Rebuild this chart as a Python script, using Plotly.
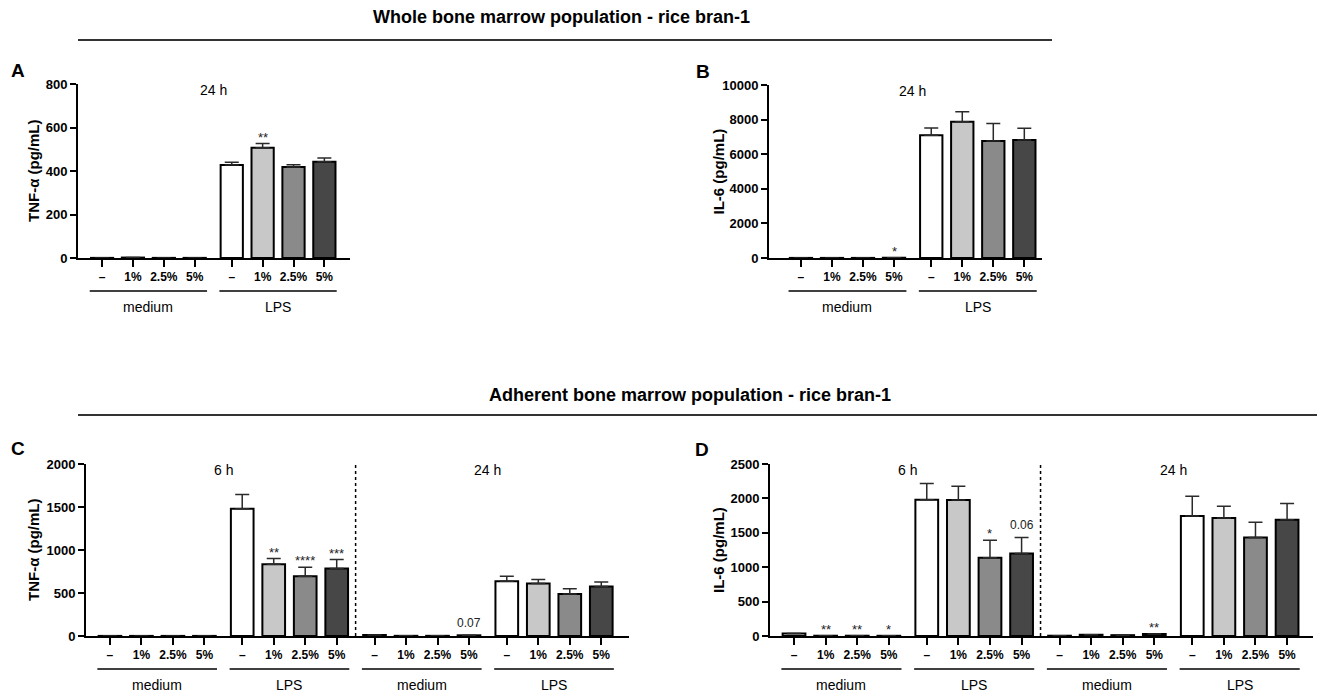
import plotly.graph_objects as go

W, H = 1317, 694
FONT = "Liberation Sans, Arial, sans-serif"

# ---------------- data ----------------
categories = ["–", "1%", "2.5%", "5%"]
groups_2 = ["medium", "LPS"]
groups_4 = ["medium", "LPS", "medium", "LPS"]
bar_colors = ["#ffffff", "#c8c8c8", "#8a8a8a", "#474747"]

A_mean = [0.5, 2, 0.5, 0.5, 428, 507, 418, 443]
A_err = [0, 0, 0, 0, 12, 19, 11, 17]
A_sig = {5: "**"}

B_mean = [5, 5, 5, 15, 7090, 7880, 6760, 6820]
B_err = [0, 0, 0, 0, 420, 580, 1020, 680]
B_sig = {3: "*"}

C_mean = [1, 1, 1, 1, 1480, 835, 695, 784, 12, 2, 2, 8, 637, 610, 489, 575]
C_err = [0, 0, 0, 0, 165, 66, 105, 105, 0, 0, 0, 0, 58, 46, 59, 54]
C_sig = {5: "**", 6: "****", 7: "***", 11: "0.07"}

D_mean = [35, 4, 4, 3, 1980, 1975, 1138, 1200, 4, 18, 12, 30, 1745, 1715, 1430, 1690]
D_err = [0, 0, 0, 0, 235, 200, 252, 233, 0, 0, 0, 0, 285, 170, 222, 237]
D_sig = {1: "**", 2: "**", 3: "*", 6: "*", 7: "0.06", 11: "**"}

time_AB = ["24 h"]
time_CD = ["6 h", "24 h"]


def px(x):
    return x / W


def py(y):
    return 1 - y / H


def positions(ngroups):
    return [g * 4.2 + i for g in range(ngroups) for i in range(4)]


fig = go.Figure()
annotations = []
shapes = []

panels = [
    dict(k="", letter="A", mean=A_mean, err=A_err, sig=A_sig, groups=groups_2, times=time_AB,
         ylab="TNF-α (pg/mL)", ymax=800, dtick=200, x0=78, x1=350, ytop=84, ybot=258,
         xr=[-0.78, 8.03], lpos=(18, 70), ylabx=33),
    dict(k="2", letter="B", mean=B_mean, err=B_err, sig=B_sig, groups=groups_2, times=time_AB,
         ylab="IL-6 (pg/mL)", ymax=10000, dtick=2000, x0=769, x1=1042, ytop=85, ybot=258,
         xr=[-1.03, 7.77], lpos=(703, 71), ylabx=718),
    dict(k="3", letter="C", mean=C_mean, err=C_err, sig=C_sig, groups=groups_4, times=time_CD,
         ylab="TNF-α (pg/mL)", ymax=2000, dtick=500, x0=86, x1=629, ytop=464, ybot=636,
         xr=[-0.76, 16.48], lpos=(18, 448), ylabx=33),
    dict(k="4", letter="D", mean=D_mean, err=D_err, sig=D_sig, groups=groups_4, times=time_CD,
         ylab="IL-6 (pg/mL)", ymax=2500, dtick=500, x0=770, x1=1313, ytop=464, ybot=636,
         xr=[-0.76, 16.42], lpos=(702, 449), ylabx=718),
]

layout_axes = {}
for p in panels:
    k = p["k"]
    ng = len(p["groups"])
    pos = positions(ng)
    xa, ya = "x" + k, "y" + k
    fig.add_trace(go.Bar(
        x=pos, y=p["mean"], width=0.72,
        marker=dict(color=bar_colors * ng, line=dict(color="black", width=2)),
        error_y=dict(type="data", symmetric=False, array=p["err"],
                     arrayminus=[0] * len(pos), color="#2a2a2a", thickness=1.5, width=7),
        xaxis=xa, yaxis=ya, showlegend=False, hoverinfo="skip",
    ))
    layout_axes["xaxis" + k] = dict(
        domain=[px(p["x0"]), px(p["x1"])], range=p["xr"], anchor=ya,
        showline=True, linecolor="black", linewidth=2, automargin=False,
        ticks="outside", ticklen=7, tickwidth=2, tickcolor="black",
        tickvals=pos, ticktext=categories * ng,
        tickfont=dict(family=FONT, size=12, color="black", weight="bold"),
        showgrid=False, zeroline=False, fixedrange=True,
    )
    layout_axes["yaxis" + k] = dict(
        domain=[py(p["ybot"]), py(p["ytop"])], range=[0, p["ymax"]], anchor=xa,
        showline=True, linecolor="black", linewidth=2, automargin=False,
        ticks="outside", ticklen=6, tickwidth=2, tickcolor="black",
        dtick=p["dtick"], tick0=0, tickformat="d",
        tickfont=dict(family=FONT, size=13, color="black", weight="bold"),
        showgrid=False, zeroline=False, fixedrange=True,
    )
    annotations.append(dict(
        x=px(p["ylabx"]), y=py((p["ytop"] + p["ybot"]) / 2), xref="paper", yref="paper",
        text=p["ylab"], textangle=-90, showarrow=False,
        font=dict(family=FONT, size=15, color="black", weight="bold"),
        xanchor="center", yanchor="middle"))
    annotations.append(dict(
        x=px(p["lpos"][0]), y=py(p["lpos"][1]), xref="paper", yref="paper",
        text=p["letter"], showarrow=False,
        font=dict(family=FONT, size=19, color="black", weight="bold"),
        xanchor="center", yanchor="middle"))
    for g, gname in enumerate(p["groups"]):
        gx0 = g * 4.2 - 0.4
        gx1 = g * 4.2 + 3.4
        shapes.append(dict(type="line", xref=xa, yref="paper", x0=gx0, x1=gx1,
                           y0=py(p["ybot"] + 33), y1=py(p["ybot"] + 33),
                           line=dict(color="black", width=1.5)))
        annotations.append(dict(
            x=g * 4.2 + 1.5, y=py(p["ybot"] + 49), xref=xa, yref="paper",
            text=gname, showarrow=False,
            font=dict(family=FONT, size=14, color="black"),
            xanchor="center", yanchor="middle"))
    for t, tname in enumerate(p["times"]):
        annotations.append(dict(
            x=t * 8.4 + 3.6, y=py(p["ytop"] + 6), xref=xa, yref="paper",
            text=tname, showarrow=False,
            font=dict(family=FONT, size=14, color="black"),
            xanchor="center", yanchor="middle"))
    if len(p["times"]) > 1:
        shapes.append(dict(type="line", xref=xa, yref=ya, x0=7.8, x1=7.8, y0=0, y1=p["ymax"],
                           line=dict(color="black", width=1.5, dash="dot")))
    for i, s in p["sig"].items():
        isnum = not s.startswith("*")
        annotations.append(dict(
            x=pos[i], y=p["mean"][i] + p["err"][i], xref=xa, yref=ya,
            text=s, showarrow=False,
            font=dict(family=FONT, size=12 if isnum else 13, color="#222222"),
            xanchor="center", yanchor="bottom", yshift=3 if isnum else -3))

annotations.append(dict(x=px(561), y=py(17), xref="paper", yref="paper",
                        text="Whole bone marrow population - rice bran-1", showarrow=False,
                        font=dict(family=FONT, size=18, color="black", weight="bold"),
                        xanchor="center", yanchor="middle"))
annotations.append(dict(x=px(690), y=py(395), xref="paper", yref="paper",
                        text="Adherent bone marrow population - rice bran-1", showarrow=False,
                        font=dict(family=FONT, size=18, color="black", weight="bold"),
                        xanchor="center", yanchor="middle"))
shapes.append(dict(type="line", xref="paper", yref="paper", x0=px(78), x1=px(1052),
                   y0=py(40), y1=py(40), line=dict(color="#333333", width=2)))
shapes.append(dict(type="line", xref="paper", yref="paper", x0=px(78), x1=px(1317),
                   y0=py(415), y1=py(415), line=dict(color="#333333", width=2)))

fig.update_layout(
    width=W, height=H,
    margin=dict(l=0, r=0, t=0, b=0, pad=0, autoexpand=False),
    paper_bgcolor="white", plot_bgcolor="white",
    bargap=0, annotations=annotations, shapes=shapes,
    font=dict(family=FONT, color="black"),
    **layout_axes,
)

fig.write_html(
    "out.html",
    config={"displayModeBar": False, "staticPlot": True},
    post_script=(
        "document.body.style.margin='0';document.body.style.padding='0';"
        "document.body.style.overflow='hidden';"
    ),
)
